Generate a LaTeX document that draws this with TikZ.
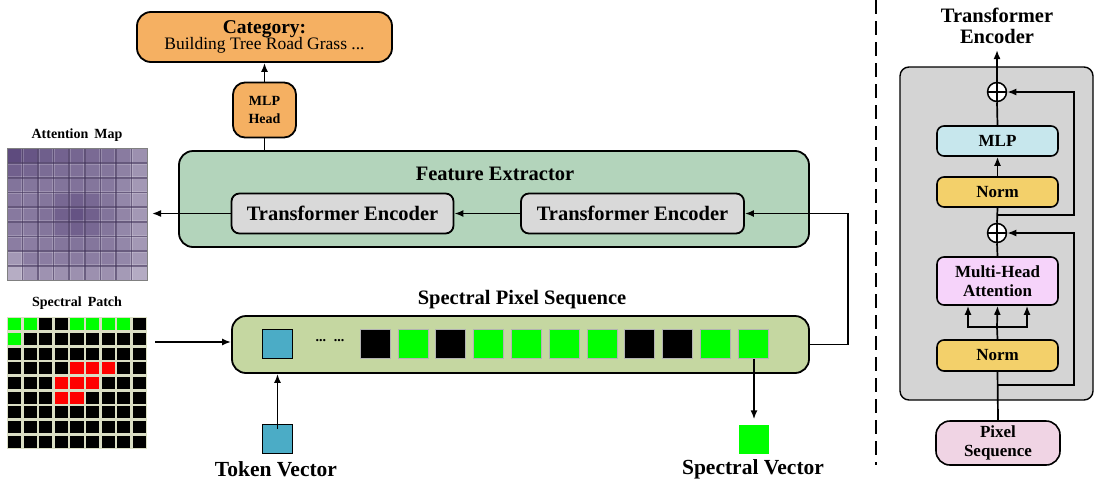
\documentclass[tikz,border=0pt]{standalone}
\usepackage{fontspec}
\setmainfont{Liberation Serif}
\usetikzlibrary{arrows.meta,calc}

\definecolor{orangebox}{RGB}{245,176,98}
\definecolor{febox}{RGB}{179,212,187}
\definecolor{tebox}{RGB}{217,217,217}
\definecolor{seqbox}{RGB}{197,215,161}
\definecolor{tokblue}{RGB}{75,172,198}
\definecolor{specgreen}{RGB}{0,255,0}
\definecolor{encbg}{RGB}{212,212,212}
\definecolor{mlpblue}{RGB}{199,231,237}
\definecolor{normyel}{RGB}{243,208,106}
\definecolor{mhapink}{RGB}{246,211,250}
\definecolor{pixpink}{RGB}{240,212,228}
\definecolor{attn}{RGB}{84,64,118}
\definecolor{patchline}{RGB}{218,222,196}
\definecolor{cellg}{RGB}{0,255,0}
\definecolor{cellk}{RGB}{0,0,0}
\definecolor{cellr}{RGB}{255,0,0}

\tikzset{
  box/.style={draw, line width=1.8pt, rounded corners=#1, inner sep=0pt, align=center},
  box/.default=8pt,
  bigtxt/.style={font=\bfseries\fontsize{20.5}{23}\selectfont},
  vectxt/.style={font=\bfseries\fontsize{21.5}{24}\selectfont},
  midtxt/.style={font=\bfseries\fontsize{17}{20}\selectfont},
  smalltxt/.style={font=\bfseries\fontsize{14}{18}\selectfont},
  arr/.style={-{Latex[length=9pt,width=7pt]}, line width=1.7pt},
  ln/.style={line width=1.7pt},
  tokensq/.style={minimum width=30pt, minimum height=29pt, inner sep=0pt},
}

\begin{document}
\begin{tikzpicture}[x=1pt,y=-1pt]
\useasboundingbox (0,0) rectangle (1094,485);

% ---------- classification head ----------
\node[box=14pt, fill=orangebox, minimum width=255pt, minimum height=50pt] (cat) at (264.5,37)
  {{\bfseries\fontsize{19.5}{22}\selectfont Category:}\\[-1pt]{\fontsize{17.5}{20}\selectfont Building Tree Road Grass ...}};
\node[box=12pt, fill=orangebox, minimum width=63pt, minimum height=55pt, font=\bfseries\fontsize{14}{18}\selectfont] (mlph) at (264.5,110) {MLP\\Head};

% ---------- feature extractor ----------
\node[box=14pt, fill=febox, minimum width=630pt, minimum height=96pt] (fe) at (494,199) {};
\node[bigtxt] (fetitle) at (495,174) {Feature Extractor};
\node[box=8pt, fill=tebox, minimum width=222pt, minimum height=40pt, bigtxt] (te1) at (342.5,213.5) {Transformer Encoder};
\node[box=8pt, fill=tebox, minimum width=223pt, minimum height=40pt, bigtxt] (te2) at (632.5,213.5) {Transformer Encoder};

\draw[arr] (mlph.north) -- (cat.south);
\draw[ln] (fe.north -| mlph.south) -- (mlph.south);
\draw[arr] (te2.west) -- (te1.west -| te1.east);
\draw[arr, shorten >=5pt] (te1.west) -- (te1.west -| 147,0);

% ---------- attention map ----------
\node[smalltxt] (amaplbl) at (77,135) {Attention\hspace{6pt}Map};
\node[minimum width=140pt, minimum height=132pt, inner sep=0pt] (amap) at (77,214.5) {};
\foreach \i in {0,...,8} {
  \foreach \j in {0,...,8} {
    \pgfmathsetmacro\dd{(\i-4)^2+(\j-4)^2}
    \pgfmathtruncatemacro\m{min(98,68+22*exp(-\dd/3)+20*exp(-\j*\j/1.5)*(1-\i/10)+6*exp(-\i*\i/2)*(1-\j/7)-14*(\i==8)-10*(\j==8)-14*(\i==0)*(\j>6)-5*(\i==7))}
    \fill[attn!\m!white] (7+\i*140/9,148.5+\j*132/9) rectangle ++(140/9+0.2,132/9+0.2);
  }
}
\foreach \k in {1,...,8} {
  \draw[white, opacity=0.2, line width=3.2pt] (7+\k*140/9,148.5) -- ++(0,132);
  \draw[white, opacity=0.2, line width=3.2pt] (7,148.5+\k*132/9) -- ++(140,0);
}
\foreach \k in {1,...,8} {
  \draw[attn!75!black, opacity=0.6, line width=1.5pt] (7+\k*140/9,148.5) -- ++(0,132);
  \draw[attn!75!black, opacity=0.6, line width=1.5pt] (7,148.5+\k*132/9) -- ++(140,0);
}
\draw[gray, line width=0.6pt] (amap.south west) rectangle (amap.north east);

% ---------- spectral patch ----------
\node[smalltxt] (patchlbl) at (77,303) {Spectral\hspace{6pt}Patch};
\node[minimum width=140pt, minimum height=132pt, inner sep=0pt, fill=patchline] (patch) at (77,383) {};
\foreach \row [count=\j from 0] in {
  {g,g,k,k,g,g,g,g,k},
  {g,k,k,k,k,k,k,k,k},
  {k,k,k,k,k,k,k,k,k},
  {k,k,k,k,r,r,r,k,k},
  {k,k,k,r,r,r,k,k,k},
  {k,k,k,r,r,k,k,k,k},
  {k,k,k,k,k,k,k,k,k},
  {k,k,k,k,k,k,k,k,k},
  {k,k,k,k,k,k,k,k,k}} {
  \foreach \c [count=\i from 0] in \row {
    \fill[cell\c] (7+\i*140/9+1.2,317+\j*132/9+1.2) rectangle ++(140/9-2.4,132/9-2.4);
  }
}

% ---------- spectral pixel sequence ----------
\node[bigtxt] (seqtitle) at (522,300) {Spectral Pixel Sequence};
\node[box=14pt, fill=seqbox, minimum width=577pt, minimum height=57pt] (seq) at (520.5,344.5) {};
\node[tokensq, draw, line width=1.6pt, fill=tokblue] (tok) at (277.5,344) {};
\node[font=\bfseries\fontsize{14}{16}\selectfont] (dots) at (330,341) {...\hspace{8pt}...};
\foreach \c [count=\k from 0] in {k,g,k,g,g,g,g,k,k,g,g} {
  \node[tokensq, fill=cell\c, draw=gray!60, line width=0.6pt] (sq\k) at (375+37.8*\k,344) {};
}

\coordinate (pin) at (155,342);
\draw[arr] (pin) -- (pin -| seq.west);

\coordinate (fbx) at (848,213.5);
\draw[arr] (seq.east) -| (fbx) -- (te2.east);

% token and spectral vectors
\node[tokensq, draw, line width=1.6pt, fill=tokblue] (tokv) at (277.5,439) {};
\node[vectxt] (tokvlbl) at (276,469) {Token Vector};
\draw[arr] ([yshift=-5pt]tokv.north) -- (tokv.north |- seq.south);

\node[tokensq, fill=specgreen] (specv) at (754,439) {};
\node[vectxt] (specvlbl) at (753,469) {Spectral Vector};
\draw[arr, shorten >=5pt] (sq10.south -| specv.north) -- (specv.north);

% ---------- separator ----------
\coordinate (dtop) at (876,0);
\coordinate (dbot) at (876,465);
\draw[line width=1.8pt, dash pattern=on 14pt off 7pt] (dtop) -- (dbot);

% ---------- transformer encoder detail ----------
\node[bigtxt, align=center] (enctitle) at (997,26) {Transformer\\[-2pt]Encoder};
\node[box=9pt, fill=encbg, line width=1.4pt, minimum width=193pt, minimum height=333pt] (enc) at (996.5,233.5) {};

\node[box=7pt, fill=mlpblue, line width=1.6pt, minimum width=121pt, minimum height=30pt, midtxt] (mlp) at (997.5,141) {MLP};
\node[box=7pt, fill=normyel, line width=1.6pt, minimum width=121pt, minimum height=30pt, midtxt] (norm1) at (997.5,192) {Norm};
\node[box=7pt, fill=mhapink, line width=1.6pt, minimum width=121pt, minimum height=48pt, midtxt] (mha) at (997.5,281) {Multi-Head\\[-1pt]Attention};
\node[box=7pt, fill=normyel, line width=1.6pt, minimum width=121pt, minimum height=31pt, midtxt] (norm2) at (997.5,355.5) {Norm};
\node[box=14pt, fill=pixpink, line width=1.6pt, minimum width=124pt, minimum height=44pt, midtxt] (pix) at (998,443) {Pixel\\[-1pt]Sequence};

\node[circle, draw, line width=1.5pt, fill=white, minimum size=19pt, inner sep=0pt] (p1) at (997,92) {};
\draw[line width=1.5pt] (p1.north) -- (p1.south) (p1.west) -- (p1.east);
\node[circle, draw, line width=1.5pt, fill=white, minimum size=19pt, inner sep=0pt] (p2) at (997,233) {};
\draw[line width=1.5pt] (p2.north) -- (p2.south) (p2.west) -- (p2.east);

\coordinate (ttop) at (997,50);
\draw[arr] (p1.north) -- (ttop);
\draw[ln] (mlp.north) -- (p1.south);
\draw[arr] (norm1.north) -- (mlp.south);
\draw[ln] (p2.north) -- (norm1.south);
\draw[ln] (mha.north) -- (p2.south);

\coordinate (r1) at (997,215);
\coordinate (r1r) at (1074,215);
\draw[arr] (r1) -- (r1r) |- (p1.east);
\coordinate (r2) at (997,385);
\coordinate (r2r) at (1074,385);
\draw[arr] (r2) -- (r2r) |- (p2.east);

\draw[ln] (pix.north) -- (norm2.south);
\coordinate (split) at (997,327);
\draw[ln] (norm2.north) -- (split);
\draw[arr] (split) -- (mha.south);
\draw[arr] (split) -| ([xshift=-29.5pt]mha.south);
\draw[arr] (split) -| ([xshift=29.5pt]mha.south);
\end{tikzpicture}
\end{document}
